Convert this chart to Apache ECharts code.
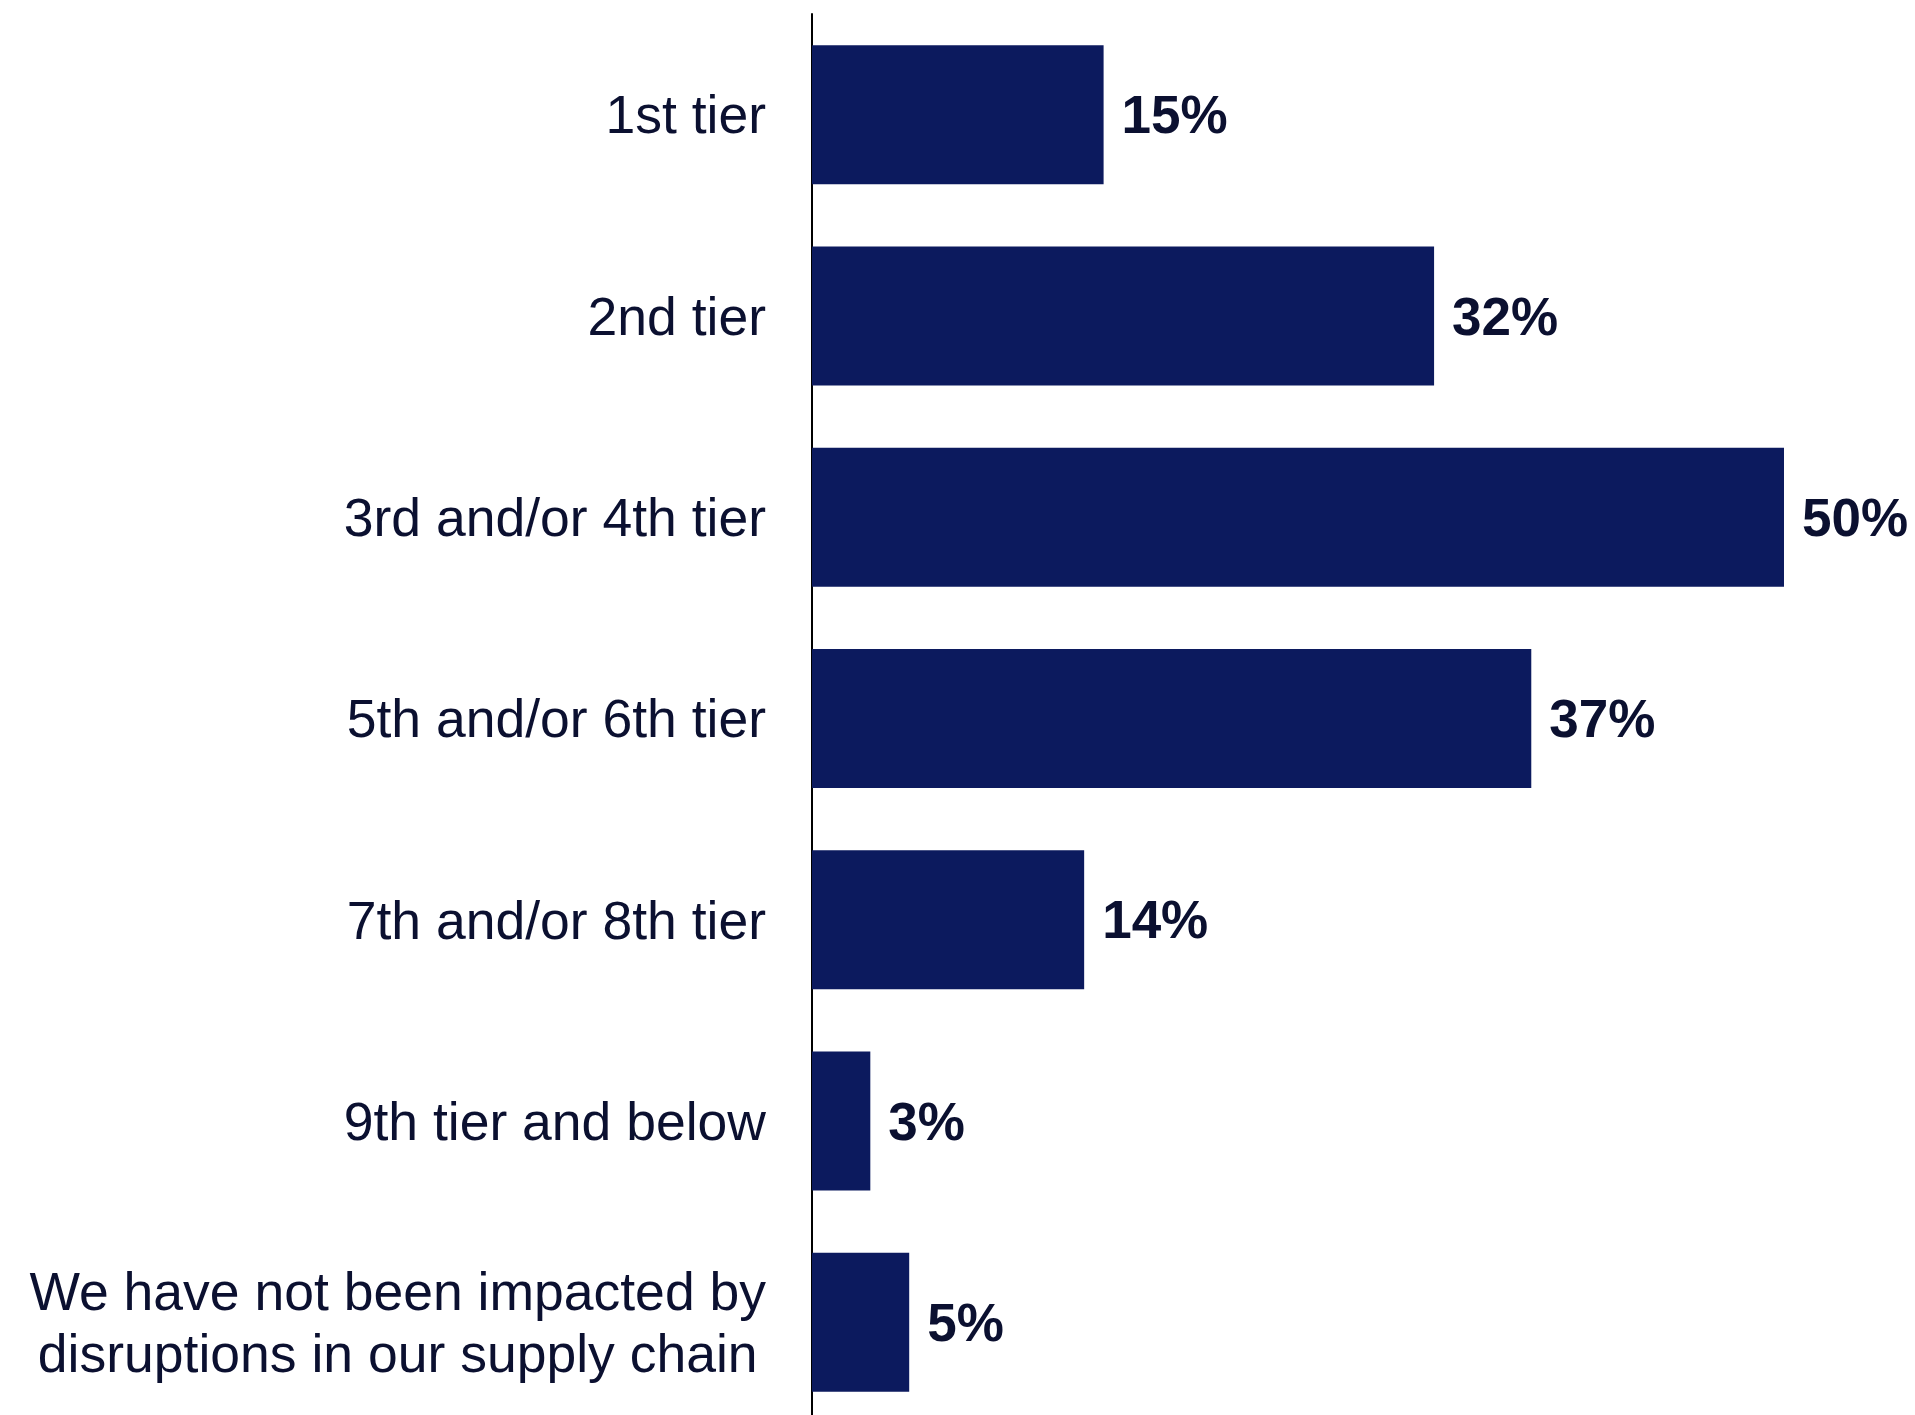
<!DOCTYPE html>
<html>
<head>
<meta charset="utf-8">
<title>Supply chain tiers impacted by disruptions</title>
<script src="https://cdn.jsdelivr.net/npm/echarts@6/dist/echarts.min.js"></script>
<style>
  html, body { margin: 0; padding: 0; background: #ffffff; }
  #chart { width: 1915px; height: 1415px; }
</style>
</head>
<body>
<div id="chart"></div>
<script>
// Survey categories (top to bottom) and share of respondents, in percent
const categories = [
  '1st tier',
  '2nd tier',
  '3rd and/or 4th tier',
  '5th and/or 6th tier',
  '7th and/or 8th tier',
  '9th tier and below',
  'We have not been impacted by\ndisruptions in our supply chain'
];
const shares = [15, 32, 50, 37, 14, 3, 5];

const BAR_COLOR = '#0c1a5e';
const TEXT_COLOR = '#0b1030';
const FONT = '"Liberation Sans", Arial, Helvetica, sans-serif';

const chart = echarts.init(document.getElementById('chart'), null, { renderer: 'canvas' });

chart.setOption({
  animation: false,
  backgroundColor: '#ffffff',
  grid: {
    left: 812,
    top: 14,
    width: 972,
    height: 1409,
    containLabel: false,
    outerBoundsMode: 'none'
  },
  xAxis: {
    type: 'value',
    min: 0,
    max: 50,
    show: false
  },
  yAxis: {
    type: 'category',
    inverse: true,
    data: categories,
    axisLine: { show: true, lineStyle: { color: '#000000', width: 2 } },
    axisTick: { show: false },
    splitLine: { show: false },
    axisLabel: {
      margin: 46,
      align: 'right',
      color: TEXT_COLOR,
      fontFamily: FONT,
      fontSize: 53.5,
      lineHeight: 62,
      padding: [8, 0, 0, 0],
      formatter: function (value) {
        // multi-line labels are centred line by line
        if (value.indexOf('\n') >= 0) {
          return value.split('\n').map(function (line) { return '{c|' + line + '}'; }).join('\n');
        }
        return value;
      },
      rich: {
        c: {
          align: 'center',
          color: TEXT_COLOR,
          fontFamily: FONT,
          fontSize: 53.5,
          lineHeight: 62
        }
      }
    }
  },
  series: [{
    type: 'bar',
    data: shares,
    barWidth: 139,
    itemStyle: { color: BAR_COLOR },
    label: {
      show: true,
      position: 'right',
      distance: 18,
      offset: [0, 4],
      color: TEXT_COLOR,
      fontFamily: FONT,
      fontWeight: 'bold',
      fontSize: 53,
      formatter: '{c}%'
    }
  }]
});
</script>
</body>
</html>
